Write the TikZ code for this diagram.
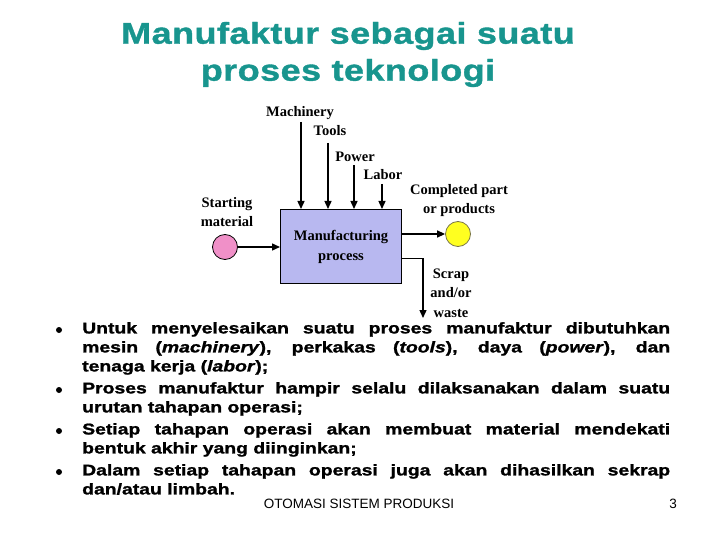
\documentclass[tikz,border=0pt]{standalone}
\usepackage{fontspec}
\setmainfont{Liberation Sans}
\newfontfamily\titlefont{Liberation Sans}[FakeStretch=1.2, FakeBold=1.2, LetterSpace=1.5]
\newfontfamily\dgmfont{Liberation Serif}
\newfontfamily\bodyfont{Liberation Sans}[FakeStretch=1.25, FakeBold=1.3]
\newfontfamily\footfont{Liberation Sans}
\usetikzlibrary{arrows.meta,calc}
\definecolor{titlecol}{HTML}{18958E}
\definecolor{boxfill}{HTML}{B8B8F0}
\definecolor{pinkc}{HTML}{F090C8}
\definecolor{yellowc}{HTML}{FFFF20}
\tikzset{
  titletext/.style={font=\titlefont\bfseries\fontsize{30}{34}\selectfont, text=titlecol, inner sep=0},
  lbl/.style={font=\dgmfont\bfseries\fontsize{14.5}{19}\selectfont, align=center, inner sep=0},
  arr/.style={line width=1.4pt, -{Triangle[length=8pt,width=7pt]}},
  body/.style={anchor=north west, text width=588pt, align=justify, inner sep=0,
    font=\bodyfont\bfseries\fontsize{15.5}{19}\selectfont},
  bul/.style={circle, fill=black, minimum size=6pt, inner sep=0},
  foot/.style={font=\footfont\fontsize{13.5}{15}\selectfont, inner sep=0}
}
\begin{document}
\begin{tikzpicture}[x=1pt,y=-1pt]
\useasboundingbox (0,0) rectangle (720,540);
% title
\node[titletext] (t1) at (348,36) {Manufaktur sebagai suatu};
\node[titletext] (t2) at (348,73) {proses teknologi};
% diagram
\node[draw, line width=1pt, fill=boxfill, minimum width=121pt, minimum height=74pt,
  anchor=north west, lbl] (box) at (280,209) {Manufacturing\\[1pt]process};
\node[circle, draw, line width=0.8pt, fill=pinkc, minimum size=25pt, inner sep=0] (sm) at (225,247) {};
\node[circle, draw=black!60!yellow, line width=0.8pt, fill=yellowc, minimum size=25pt, inner sep=0] (cp) at (458,234) {};
\draw[arr] (sm.east) -- (box.west |- sm.east);
\draw[arr] (box.east |- cp.west) -- (cp.west);
\coordinate (sc) at (423,318);
\draw[arr] ($(box.east)+(0,12)$) -| (sc);
\coordinate (cm) at (301,122);
\coordinate (ct) at (328,143);
\coordinate (cpw) at (354,165);
\coordinate (cl) at (382,184);
\draw[arr] (cm) -- (cm |- box.north);
\draw[arr] (ct) -- (ct |- box.north);
\draw[arr] (cpw) -- (cpw |- box.north);
\draw[arr] (cl) -- (cl |- box.north);
\node[lbl] (lm) at (300,113) {Machinery};
\node[lbl] (lt) at (330,131) {Tools};
\node[lbl] (lp) at (355,157) {Power};
\node[lbl] (ll) at (383,175) {Labor};
\node[lbl] (ls) at (227,212) {Starting\\material};
\node[lbl] (lc) at (459,201) {Completed part\\or products};
\node[lbl, font=\dgmfont\bfseries\fontsize{14.5}{19.5}\selectfont] (lw) at (451,293) {Scrap\\and/or\\waste};
% bullets
\node[bul] (b1) at (59,330) {};
\node[bul] (b2) at (59,390) {};
\node[bul] (b3) at (59,431) {};
\node[bul] (b4) at (59,472) {};
\node[body] (p1) at (82,322) {Untuk menyelesaikan suatu proses manufaktur dibutuhkan\linebreak
mesin (\textit{machinery}), perkakas (\textit{tools}), daya (\textit{power}), dan\linebreak
tenaga kerja (\textit{labor});};
\node[body] (p2) at (82,382) {Proses manufaktur hampir selalu dilaksanakan dalam suatu\linebreak
urutan tahapan operasi;};
\node[body] (p3) at (82,423) {Setiap tahapan operasi akan membuat material mendekati\linebreak
bentuk akhir yang diinginkan;};
\node[body] (p4) at (82,464) {Dalam setiap tahapan operasi juga akan dihasilkan sekrap\linebreak
dan/atau limbah.};
% footer
\node[foot] (f1) at (359,504) {OTOMASI SISTEM PRODUKSI};
\node[foot] (f2) at (673,504) {3};
\end{tikzpicture}
\end{document}
